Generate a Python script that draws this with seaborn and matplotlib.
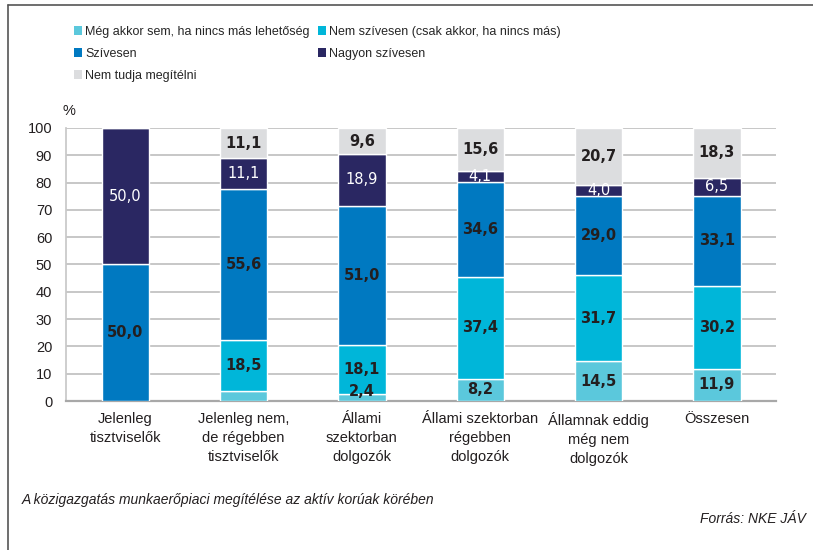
import matplotlib
matplotlib.use("Agg")
import matplotlib.pyplot as plt
from matplotlib.lines import Line2D
from matplotlib.patches import Patch
import numpy as np
import seaborn as sns

categories = [
    "Jelenleg\ntisztviselők",
    "Jelenleg nem,\nde régebben\ntisztviselők",
    "Állami\nszektorban\ndolgozók",
    "Állami szektorban\nrégebben\ndolgozók",
    "Államnak eddig\nmég nem\ndolgozók",
    "Összesen",
]
series_names = [
    "Még akkor sem, ha nincs más lehetőség",
    "Nem szívesen (csak akkor, ha nincs más)",
    "Szívesen",
    "Nagyon szívesen",
    "Nem tudja megítélni",
]
meg_akkor_sem = [0.0, 3.7, 2.4, 8.2, 14.5, 11.9]
nem_szivesen = [0.0, 18.5, 18.1, 37.4, 31.7, 30.2]
szivesen = [50.0, 55.6, 51.0, 34.6, 29.0, 33.1]
nagyon_szivesen = [50.0, 11.1, 18.9, 4.1, 4.0, 6.5]
nem_tudja = [0.0, 11.1, 9.6, 15.6, 20.7, 18.3]
series_values = [meg_akkor_sem, nem_szivesen, szivesen, nagyon_szivesen, nem_tudja]
# which segments carry a printed value in the source chart
show_label = [
    [False, False, True, True, True, True],
    [False, True, True, True, True, True],
    [True, True, True, True, True, True],
    [True, True, True, True, True, True],
    [False, True, True, True, True, True],
]

colors = ["#5BC8DC", "#00B6D9", "#0079C1", "#2A2762", "#DCDDDF"]
label_colors = ["#231F20", "#231F20", "#231F20", "white", "#231F20"]
label_weights = ["bold", "bold", "bold", "normal", "bold"]

sns.set_theme(style="white")
plt.rcParams["font.family"] = ["Liberation Sans", "DejaVu Sans"]

fig = plt.figure(figsize=(8.13, 5.5), dpi=100)
ax = fig.add_axes([0.0812, 0.2709, 0.8733, 0.4964])

bottom = np.zeros(len(categories))
for name, vals, col in zip(series_names, series_values, colors):
    sns.barplot(x=categories, y=vals, bottom=bottom, color=col, width=0.4,
                saturation=1, ax=ax, zorder=3)
    bottom = bottom + np.array(vals)
if ax.get_legend() is not None:
    ax.get_legend().remove()

bottom = np.zeros(len(categories))
for s, vals in enumerate(series_values):
    for i, v in enumerate(vals):
        if show_label[s][i]:
            y = bottom[i] + v / 2
            y = max(y, 3.6)
            ax.text(i, y, f"{v:.1f}".replace(".", ","), ha="center", va="center",
                    fontsize=10.5, color=label_colors[s], fontweight=label_weights[s],
                    family=["DejaVu Sans"], zorder=5)
    bottom = bottom + np.array(vals)

ax.set_xlim(-0.5, 5.5)
ax.set_ylim(0, 100)
ax.set_yticks(range(0, 101, 10))
ax.yaxis.grid(True, color="#BEBEBE", linewidth=1.2, zorder=0)
ax.set_axisbelow(True)
ax.tick_params(axis="both", length=0, labelsize=10.5, colors="#231F20")
ax.tick_params(axis="x", pad=8)
ax.tick_params(axis="y", pad=10)
for lbl in ax.get_xticklabels():
    lbl.set_linespacing(1.45)
for side in ["top", "right"]:
    ax.spines[side].set_visible(False)
ax.spines["left"].set_color("#C8C8C8")
ax.spines["bottom"].set_color("#A8A8A8")
ax.spines["bottom"].set_linewidth(1.6)
ax.text(-0.005, 1.035, "%", transform=ax.transAxes, fontsize=10.5, ha="left", va="bottom",
        color="#231F20")

handles = [Patch(facecolor=c, edgecolor="none") for c in colors]
leg_kw = dict(frameon=False, fontsize=9, handlelength=0.65, handleheight=0.75,
              handletextpad=0.25, labelspacing=0.78, borderaxespad=0, borderpad=0)
fig.legend([handles[0], handles[2], handles[4]],
           [series_names[0], series_names[2], series_names[4]],
           loc="upper left", bbox_to_anchor=(74 / 813, 1 - 26 / 550), **leg_kw)
fig.legend([handles[1], handles[3]], [series_names[1], series_names[3]],
           loc="upper left", bbox_to_anchor=(318 / 813, 1 - 26 / 550), **leg_kw)

fig.text(22 / 813, 1 - 500 / 550, "A közigazgatás munkaerőpiaci megítélése az aktív korúak körében",
         fontsize=10, style="italic", ha="left", va="center", color="#231F20")
fig.text(806 / 813, 1 - 519 / 550, "Forrás: NKE JÁV", fontsize=10, style="italic",
         ha="right", va="center", color="#231F20")

# frame lines on the left and top edge
fig.add_artist(Line2D([8 / 813, 8 / 813], [0, 1 - 5 / 550], transform=fig.transFigure,
                      color="#555555", linewidth=1.2))
fig.add_artist(Line2D([8 / 813, 1], [1 - 5 / 550, 1 - 5 / 550], transform=fig.transFigure,
                      color="#555555", linewidth=1.2))

fig.savefig("out.png", dpi=100)
